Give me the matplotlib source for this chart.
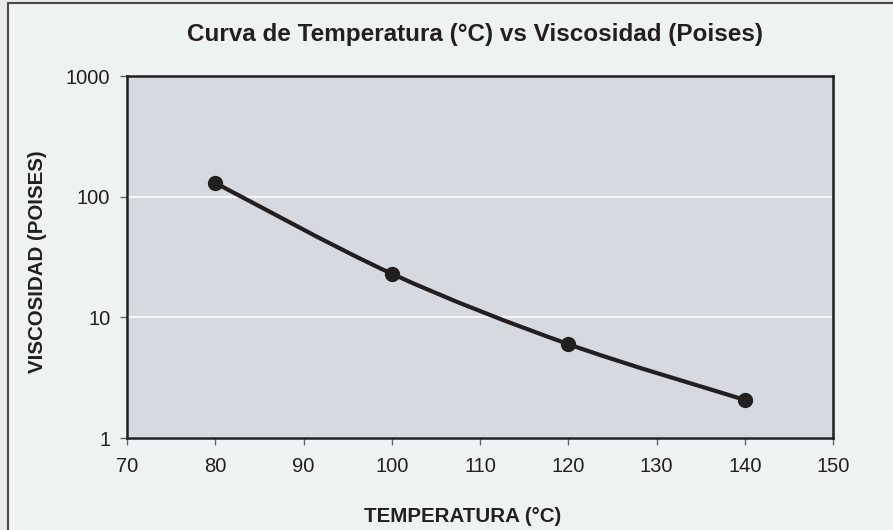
import matplotlib.pyplot as plt
import numpy as np
from matplotlib.path import Path
from matplotlib.patches import PathPatch, Rectangle

temperatura = [80, 100, 120, 140]
viscosidad = [130, 23, 6.0, 2.07]
x_ticks = [70, 80, 90, 100, 110, 120, 130, 140, 150]
y_ticks = [1, 10, 100, 1000]

line_col = "#231f20"
plt.rcParams["font.family"] = ["Liberation Sans", "DejaVu Sans"]

fig = plt.figure(figsize=(8.93, 5.30), dpi=100)
fig.patch.set_facecolor("#e9e9e9")
# inner panel with dark border on left/top edges
W, H = 893, 530
fig.patches.append(Rectangle((7.5 / W, -0.1), 1.2, 1.1 - 3.5 / H,
                             transform=fig.transFigure, facecolor="#eef2f3",
                             edgecolor="#4a4a4a", lw=1.5, zorder=-1))

ax = fig.add_axes([127 / W, 1 - 438 / H, (833 - 127) / W, (438 - 76) / H])
ax.set_facecolor("#d6d9e0")
ax.set_yscale("log")
ax.set_xlim(70, 150)
ax.set_ylim(1, 1000)

# smoothed line (Catmull-Rom -> Bezier in x / log10(y) space)
px = np.array(temperatura, dtype=float)
py = np.log10(viscosidad)
verts = [(px[0], py[0])]
codes = [Path.MOVETO]
n = len(px)
for i in range(n - 1):
    i0 = max(i - 1, 0)
    i3 = min(i + 2, n - 1)
    c1 = (px[i] + (px[i + 1] - px[i0]) / 6, py[i] + (py[i + 1] - py[i0]) / 6)
    c2 = (px[i + 1] - (px[i3] - px[i]) / 6, py[i + 1] - (py[i3] - py[i]) / 6)
    verts += [c1, c2, (px[i + 1], py[i + 1])]
    codes += [Path.CURVE4] * 3
verts = [(vx, 10 ** vy) for vx, vy in verts]
ax.add_patch(PathPatch(Path(verts, codes), facecolor="none",
                       edgecolor=line_col, lw=3.0, zorder=3))
ax.plot(temperatura, viscosidad, "o", color=line_col, markersize=10, zorder=4)

ax.set_xticks(x_ticks)
ax.set_xticklabels([str(t) for t in x_ticks])
ax.set_yticks(y_ticks)
ax.set_yticklabels([str(t) for t in y_ticks])
ax.minorticks_off()
ax.tick_params(axis="both", direction="out", length=5, width=1, color="#666666",
               labelsize=14.5, labelcolor="#231f20", pad=9)
ax.tick_params(axis="y", pad=7)

ax.yaxis.grid(True, color="white", lw=1.2)
ax.set_axisbelow(True)
for s in ax.spines.values():
    s.set_color(line_col)
    s.set_linewidth(1.8)

fig.text(463 / W, 1 - 516 / H, "TEMPERATURA (°C)", ha="center", va="center",
         fontsize=14.8, fontweight="bold", color="#231f20")
fig.text(38 / W, 1 - 262 / H, "VISCOSIDAD (POISES)", ha="center", va="center",
         rotation=90, fontsize=14.8, fontweight="bold", color="#231f20")
fig.text(475 / W, 1 - 34 / H, "Curva de Temperatura (°C) vs Viscosidad (Poises)",
         ha="center", va="center", fontsize=17.5, fontweight="bold",
         color="#231f20")

fig.savefig("out.png", dpi=100, facecolor=fig.get_facecolor())
